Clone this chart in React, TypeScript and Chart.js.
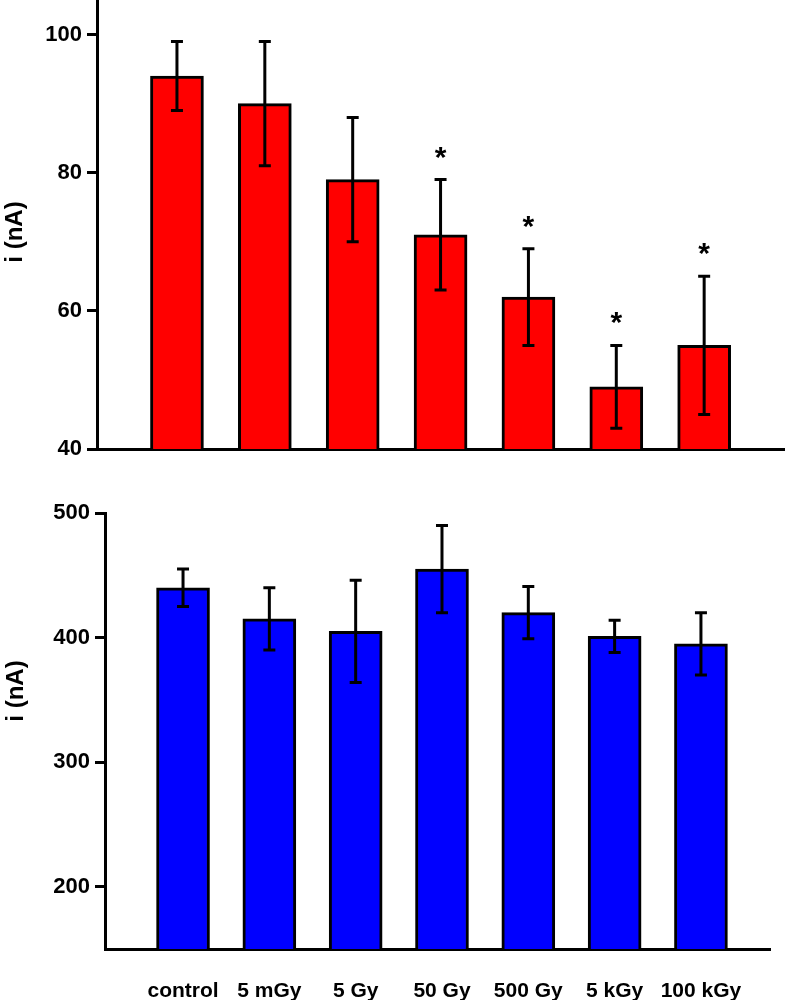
import { useRef, useEffect } from 'react'
import { Chart, registerables } from 'chart.js'

Chart.register(...registerables)

const FONT = "'Liberation Sans', Arial, Helvetica, sans-serif"

const categories = ['control', '5 mGy', '5 Gy', '50 Gy', '500 Gy', '5 kGy', '100 kGy']

// top panel (red)
const redMeans = [94, 90, 79, 71, 62, 49, 55]
const redLow = [89, 81, 70, 63, 55, 43, 45]
const redHigh = [99, 99, 88, 79, 69, 55, 65]
const redStars = [false, false, false, true, true, true, true]
const redTicks = [40, 60, 80, 100]

// bottom panel (blue)
const blueMeans = [440, 415, 405, 455, 420, 401, 395]
const blueLow = [425, 390, 364, 420, 399, 388, 370]
const blueHigh = [455, 440, 446, 490, 441, 414, 420]
const blueStars = [false, false, false, false, false, false, false]
const blueTicks = [200, 300, 400, 500]

const yTitle = 'i (nA)'

interface PanelProps {
  means: number[]
  low: number[]
  high: number[]
  stars: boolean[]
  ticks: number[]
  color: string
  yMin: number
  yMax: number
  xMin: number
  xMax: number
  top: number
  height: number
  padTop: number
  padRight: number
  axisWidth: number
  xAxisHeight: number
  showLabels: boolean
  titleX: number
  titleY: number
}

function Panel(p: PanelProps) {
  const canvasRef = useRef<HTMLCanvasElement>(null)
  const chartRef = useRef<Chart | null>(null)

  useEffect(() => {
    if (!canvasRef.current) return
    const ctx = canvasRef.current.getContext('2d')
    if (!ctx) return

    const extras = {
      id: 'errorBars',
      afterDatasetsDraw(chart: any) {
        const { ctx, scales: { x, y } } = chart
        ctx.save()
        ctx.strokeStyle = '#000'
        ctx.fillStyle = '#000'
        ctx.lineWidth = 3
        ctx.font = `bold 30px ${FONT}`
        ctx.textAlign = 'center'
        ctx.textBaseline = 'alphabetic'
        p.means.forEach((_, i) => {
          const px = x.getPixelForValue(i + 1)
          const hi = y.getPixelForValue(p.high[i])
          const lo = y.getPixelForValue(p.low[i])
          ctx.beginPath()
          ctx.moveTo(px, hi)
          ctx.lineTo(px, lo)
          ctx.moveTo(px - 6, hi)
          ctx.lineTo(px + 6, hi)
          ctx.moveTo(px - 6, lo)
          ctx.lineTo(px + 6, lo)
          ctx.stroke()
          if (p.stars[i]) ctx.fillText('*', px, hi - 13)
        })
        ctx.restore()
      },
      afterDraw(chart: any) {
        const c = chart.ctx
        c.save()
        c.fillStyle = '#000'
        c.font = `bold 24px ${FONT}`
        c.textAlign = 'center'
        c.textBaseline = 'middle'
        c.translate(p.titleX, p.titleY)
        c.rotate(-Math.PI / 2)
        c.fillText(yTitle, 0, 0)
        c.restore()
      },
    }

    chartRef.current = new Chart(ctx, {
      type: 'bar',
      data: {
        datasets: [{
          data: p.means.map((v, i) => ({ x: i + 1, y: v })),
          backgroundColor: p.color,
          borderColor: '#000',
          borderWidth: 3,
          borderSkipped: false,
          barThickness: 53,
        }],
      },
      options: {
        responsive: false,
        animation: false,
        layout: { padding: { top: p.padTop, right: p.padRight, left: 0, bottom: 0 } },
        plugins: { legend: { display: false }, tooltip: { enabled: false } },
        scales: {
          x: {
            type: 'linear',
            min: p.xMin,
            max: p.xMax,
            offset: false,
            z: 1,
            afterBuildTicks: (s: any) => { s.ticks = categories.map((_, i) => ({ value: i + 1 })) },
            afterFit: (s: any) => {
              s.height = p.xAxisHeight
              s.paddingLeft = 0
              s.paddingRight = 0
            },
            ticks: {
              display: p.showLabels,
              autoSkip: false,
              maxRotation: 0,
              padding: 22,
              color: '#000',
              font: { family: FONT, size: 21, weight: 'bold' },
              callback: (v: any) => categories[Number(v) - 1] ?? '',
            },
            grid: { display: false },
            border: { display: true, color: '#000', width: 3 },
          },
          y: {
            min: p.yMin,
            max: p.yMax,
            z: 1,
            afterBuildTicks: (s: any) => { s.ticks = p.ticks.map(v => ({ value: v })) },
            afterFit: (s: any) => {
              s.width = p.axisWidth
              s.paddingTop = 0
              s.paddingBottom = 0
            },
            ticks: {
              padding: 5,
              color: '#000',
              font: { family: FONT, size: 22, weight: 'bold' },
            },
            grid: {
              drawOnChartArea: false,
              drawTicks: true,
              tickLength: 10,
              lineWidth: 3,
              color: '#000',
            },
            border: { display: true, color: '#000', width: 3 },
          },
        },
      },
      plugins: [extras],
    } as any)

    return () => { chartRef.current?.destroy() }
  }, [])

  return (
    <div style={{ position: 'absolute', left: 0, top: p.top, width: 785, height: p.height }}>
      <canvas ref={canvasRef} width={785} height={p.height} />
    </div>
  )
}

export default function App() {
  return (
    <div style={{ position: 'absolute', left: 0, top: 0, width: 785, height: 1000, background: '#fff', overflow: 'hidden' }}>
      <Panel
        means={redMeans} low={redLow} high={redHigh} stars={redStars} ticks={redTicks}
        color="#ff0000" yMin={40} yMax={105} xMin={0.09} xMax={7.92}
        top={0} height={470} padTop={0} padRight={0} axisWidth={97} xAxisHeight={21}
        showLabels={false} titleX={15} titleY={232}
      />
      <Panel
        means={blueMeans} low={blueLow} high={blueHigh} stars={blueStars} ticks={blueTicks}
        color="#0000ff" yMin={150} yMax={500} xMin={0.096} xMax={7.8}
        top={470} height={530} padTop={43} padRight={15} axisWidth={105} xAxisHeight={51}
        showLabels={true} titleX={16} titleY={221}
      />
    </div>
  )
}
